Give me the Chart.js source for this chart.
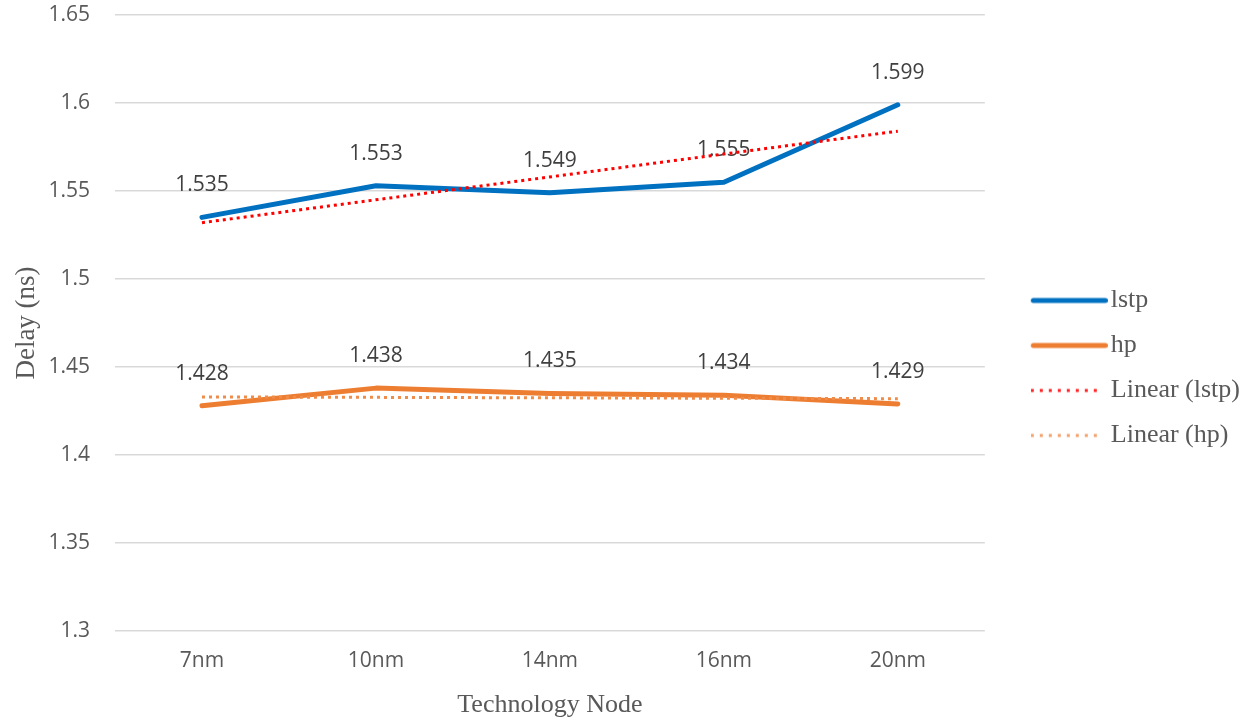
<!DOCTYPE html>
<html>
<head>
<meta charset="utf-8">
<title>Delay vs Technology Node</title>
<script src="https://cdn.jsdelivr.net/npm/chart.js@4/dist/chart.umd.min.js"></script>
<style>
  html, body { margin: 0; padding: 0; background: #ffffff; }
  #wrap { width: 1250px; height: 721px; position: relative; }
</style>
</head>
<body>
<div id="wrap"><canvas id="chart" width="1250" height="721"></canvas></div>
<script>
// Technology nodes along the x axis
const categories = ['7nm', '10nm', '14nm', '16nm', '20nm'];

// Measured delay (ns) per node
const lstpDelay = [1.535, 1.553, 1.549, 1.555, 1.599];
const hpDelay   = [1.428, 1.438, 1.435, 1.434, 1.429];

// Linear trend lines: values at the first and last node
const lstpTrendEnds = [1.532, 1.584];
const hpTrendEnds   = [1.433, 1.432];

// Y axis range and step
const yMin = 1.3, yMax = 1.65, yStep = 0.05;

const SANS = '"Open Sans", "Liberation Sans", sans-serif';
const SERIF = '"Liberation Serif", "DejaVu Serif", serif';

// Space between the plot and the legend column, and vertical nudge of the legend
const LEGEND_GAP = 27;
const LEGEND_DY = 0;

function trendSeries(ends) {
  const arr = categories.map(() => null);
  arr[0] = ends[0];
  arr[arr.length - 1] = ends[1];
  return arr;
}

// Small canvas used as the legend sample for a series (solid or dotted line)
function legendSample(color, width, dash, lineLen, lead) {
  const c = document.createElement('canvas');
  c.width = lead + lineLen;
  c.height = 8;
  const g = c.getContext('2d');
  g.strokeStyle = color;
  g.lineWidth = width;
  g.lineCap = dash.length ? 'butt' : 'round';
  g.setLineDash(dash);
  g.beginPath();
  const pad = dash.length ? 0 : width / 2;
  g.moveTo(lead + pad, 4);
  g.lineTo(lead + lineLen - pad, 4);
  g.stroke();
  return c;
}

// Draws the value above each point of datasets flagged with showValues
const valueLabels = {
  id: 'valueLabels',
  afterDatasetDraw(chart, args) {
    const ds = chart.data.datasets[args.index];
    if (!ds.showValues) return;
    const ctx = chart.ctx;
    ctx.save();
    ctx.font = '21px ' + SANS;
    ctx.fillStyle = '#404040';
    ctx.textAlign = 'center';
    ctx.textBaseline = 'middle';
    args.meta.data.forEach((el, i) => {
      const v = ds.data[i];
      if (v == null) return;
      ctx.fillText(v.toFixed(3), el.x, el.y - 32);
    });
    ctx.restore();
  }
};

// Keeps the legend column at the right edge while leaving a gap after the plot
const legendShift = {
  id: 'legendShift',
  afterLayout(chart) {
    const lg = chart.legend;
    if (lg) {
      lg.left += LEGEND_GAP;
      lg.right += LEGEND_GAP;
      lg.top += LEGEND_DY;
      lg.bottom += LEGEND_DY;
    }
  }
};

const datasets = [
  {
    label: 'lstp',
    data: lstpDelay,
    borderColor: '#0070C0',
    backgroundColor: '#0070C0',
    borderWidth: 5,
    borderCapStyle: 'round',
    borderJoinStyle: 'round',
    pointRadius: 0,
    tension: 0,
    showValues: true,
    order: 2,
    legendImg: legendSample('#0070C0', 5, [], 77, 10)
  },
  {
    label: 'hp',
    data: hpDelay,
    borderColor: '#ED7D31',
    backgroundColor: '#ED7D31',
    borderWidth: 5,
    borderCapStyle: 'round',
    borderJoinStyle: 'round',
    pointRadius: 0,
    tension: 0,
    showValues: true,
    order: 2,
    legendImg: legendSample('#ED7D31', 5, [], 77, 10)
  },
  {
    label: 'Linear (lstp)',
    data: trendSeries(lstpTrendEnds),
    borderColor: '#FF0000',
    backgroundColor: '#FF0000',
    borderWidth: 3,
    borderDash: [3, 4],
    borderCapStyle: 'butt',
    pointRadius: 0,
    spanGaps: true,
    order: 1,
    legendImg: legendSample('#FF2020', 3, [3, 6], 67, 0)
  },
  {
    label: 'Linear (hp)',
    data: trendSeries(hpTrendEnds),
    borderColor: '#F08C4A',
    backgroundColor: '#F08C4A',
    borderWidth: 3,
    borderDash: [3, 4],
    borderCapStyle: 'butt',
    pointRadius: 0,
    spanGaps: true,
    order: 1,
    legendImg: legendSample('#F4A06A', 3, [3, 6], 67, 0)
  }
];

new Chart(document.getElementById('chart'), {
  type: 'line',
  data: { labels: categories, datasets },
  options: {
    responsive: false,
    animation: false,
    events: [],
    layout: { padding: { top: 15, right: LEGEND_GAP, bottom: 0, left: 0 } },
    scales: {
      x: {
        offset: true,
        grid: { display: false, drawTicks: false, offset: true },
        border: { display: false },
        ticks: { color: '#595959', font: { family: SANS, size: 21 }, padding: 17 },
        title: {
          display: true,
          text: 'Technology Node',
          color: '#595959',
          font: { family: SERIF, size: 26 },
          padding: { top: 0, bottom: 0 }
        },
        afterFit(scale) { scale.height = 90; }
      },
      y: {
        min: yMin,
        max: yMax,
        grid: {
          color: '#D9D9D9',
          lineWidth: 1.5,
          drawTicks: true,
          tickLength: 23,
          tickColor: 'rgba(0,0,0,0)'
        },
        border: { display: false },
        ticks: {
          stepSize: yStep,
          color: '#595959',
          font: { family: SANS, size: 21 },
          padding: 2,
          callback: (v) => parseFloat(v.toFixed(2)).toString()
        },
        title: {
          display: true,
          text: 'Delay (ns)',
          color: '#595959',
          font: { family: SERIF, size: 27 },
          padding: { top: 11, bottom: 0 }
        },
        afterFit(scale) { scale.width = 115; }
      }
    },
    plugins: {
      tooltip: { enabled: false },
      legend: {
        position: 'right',
        labels: {
          usePointStyle: true,
          pointStyleWidth: 67,
          color: '#595959',
          font: { family: SERIF, size: 26 },
          padding: 19,
          sort: (a, b) => a.datasetIndex - b.datasetIndex,
          generateLabels(chart) {
            const items = Chart.defaults.plugins.legend.labels.generateLabels(chart);
            items.forEach((it) => {
              it.pointStyle = chart.data.datasets[it.datasetIndex].legendImg;
            });
            return items;
          }
        }
      }
    }
  },
  plugins: [valueLabels, legendShift]
});
</script>
</body>
</html>
